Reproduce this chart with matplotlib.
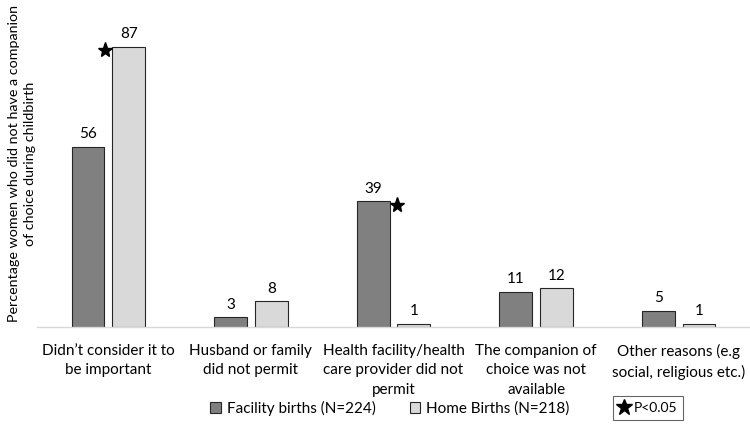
import matplotlib
matplotlib.use("Agg")
import matplotlib.pyplot as plt
import numpy as np
from matplotlib.patches import Patch
from matplotlib.lines import Line2D

categories = ["Didn’t consider it to\nbe important",
              "Husband or family\ndid not permit",
              "Health facility/health\ncare provider did not\npermit",
              "The companion of\nchoice was not\navailable",
              "Other reasons (e.g\nsocial, religious etc.)"]
facility = [56, 3, 39, 11, 5]
home = [87, 8, 1, 12, 1]
series_names = ["Facility births (N=224)", "Home Births (N=218)"]
ylabel = "Percentage women who did not have a companion\nof choice during childbirth"

plt.rcParams['font.family'] = ['Lato', 'DejaVu Sans']
fig = plt.figure(figsize=(7.5, 4.26), dpi=100)
ax = fig.add_axes([37/750, 99/426, 713/750, 306/426])

x = np.arange(len(categories))
w = 0.23
off = 0.143
ax.bar(x - off, facility, w, color="#808080", edgecolor="#262626", linewidth=0.8)
ax.bar(x + off, home, w, color="#d9d9d9", edgecolor="#262626", linewidth=0.8)

for xi, v in zip(x - off, facility):
    ax.annotate(str(v), (xi, v), xytext=(0, 4), textcoords="offset points",
                ha="center", va="bottom", fontsize=11)
for xi, v in zip(x + off, home):
    ax.annotate(str(v), (xi, v), xytext=(0, 4), textcoords="offset points",
                ha="center", va="bottom", fontsize=11)

# significance stars
ax.plot([x[0] + off - w/2 - 0.05], [home[0] - 1], marker="*", color="black", markersize=11, clip_on=False)
ax.plot([x[2] - off + w/2 + 0.05], [facility[2] - 1], marker="*", color="black", markersize=11, clip_on=False)

ax.set_xlim(-0.5, len(categories) - 0.5)
ax.set_ylim(0, 95)
ax.set_yticks([])
ax.set_xticks(x)
ax.set_xticklabels(categories, fontsize=11, linespacing=1.5)
ax.tick_params(axis="x", length=0, pad=12)
for s in ["top", "right", "left"]:
    ax.spines[s].set_visible(False)
ax.spines["bottom"].set_color("#d9d9d9")
ax.spines["bottom"].set_linewidth(1)

fig.text(22/750, 1 - 164/426, ylabel, rotation=90, ha="center", va="center",
         fontsize=10.3, linespacing=1.45)

handles = [Patch(facecolor="#808080", edgecolor="#262626", linewidth=0.8),
           Patch(facecolor="#d9d9d9", edgecolor="#262626", linewidth=0.8)]
fig.legend(handles, series_names, loc="center", bbox_to_anchor=(390/750, 1 - 408/426),
           ncol=2, frameon=False, fontsize=11, handlelength=0.7, handleheight=0.7,
           handletextpad=0.4, columnspacing=2.2)

star_handle = Line2D([], [], marker="*", color="black", linestyle="none", markersize=12)
leg2 = fig.legend([star_handle], ["P<0.05"], loc="center", bbox_to_anchor=(648/750, 1 - 408/426),
                  frameon=True, fontsize=10, handlelength=0.8, handletextpad=0.3,
                  fancybox=False, borderpad=0.4)
leg2.get_frame().set_edgecolor("#404040")
leg2.get_frame().set_linewidth(0.8)

fig.savefig("out.png", dpi=100)
